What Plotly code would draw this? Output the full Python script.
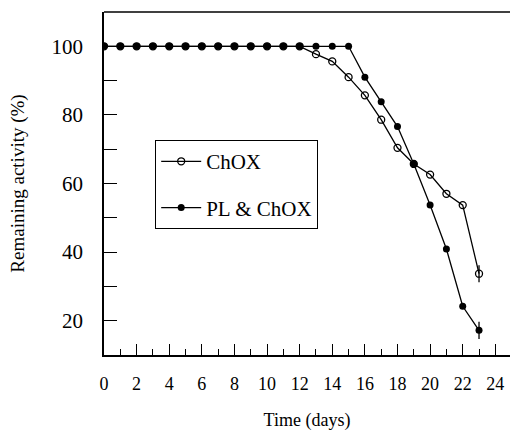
import plotly.graph_objects as go

days = list(range(0, 24))
chox = [100, 100, 100, 100, 100, 100, 100, 100, 100, 100, 100, 100, 100,
        97.7, 95.6, 91.0, 85.7, 78.6, 70.4, 65.7, 62.6, 57.0, 53.7, 33.7]
pl_chox = [100, 100, 100, 100, 100, 100, 100, 100, 100, 100, 100, 100, 100,
           100, 100, 100, 91.0, 83.8, 76.6, 65.7, 53.7, 40.9, 24.2, 17.2]
chox_err = [0] * 23 + [2.5]
pl_chox_err = [0] * 23 + [2.5]
x_major = list(range(0, 25, 2))
x_minor = list(range(1, 25, 2))
y_ticks = list(range(20, 101, 10))
y_labels = ["20", "", "40", "", "60", "", "80", "", "100"]

FONT = "Liberation Serif"
X_RANGE = [0, 24.9]

fig = go.Figure()
fig.add_trace(go.Scatter(
    x=days, y=chox, name="ChOX", mode="lines+markers", legendgroup="a",
    line=dict(color="black", width=1.3),
    marker=dict(symbol="circle-open", size=7, color="black", line=dict(width=1.3)),
    error_y=dict(type="data", array=chox_err, visible=True, width=0,
                 color="black", thickness=1.3),
))
fig.add_trace(go.Scatter(
    x=days, y=pl_chox, name="PL & ChOX", mode="lines+markers", legendgroup="b",
    line=dict(color="black", width=1.3),
    marker=dict(symbol="circle", size=7, color="black"),
    error_y=dict(type="data", array=pl_chox_err, visible=True, width=0,
                 color="black", thickness=1.3),
))
# empty trace that carries the short odd-day ticks on a second bottom axis
fig.add_trace(go.Scatter(x=[], y=[], xaxis="x2", showlegend=False, hoverinfo="skip"))

fig.update_layout(
    width=511, height=437,
    margin=dict(l=104, r=1, t=12, b=82),
    paper_bgcolor="white", plot_bgcolor="white",
    font=dict(family=FONT, color="black", size=18),
    showlegend=True,
    legend=dict(
        x=0.1256, y=0.627, xanchor="left", yanchor="top",
        bordercolor="black", borderwidth=1.2, bgcolor="white",
        font=dict(family=FONT, size=21, color="black"), tracegroupgap=16,
        itemwidth=40,
    ),
    xaxis=dict(
        range=X_RANGE, showgrid=False, zeroline=False,
        showline=True, linecolor="black", linewidth=1.5,
        tickmode="array", tickvals=x_major,
        ticks="inside", ticklen=11,
        tickwidth=1.2, tickcolor="black", ticklabelstandoff=12,
        tickfont=dict(family=FONT, size=18, color="black"),
        title=dict(text="Time (days)", font=dict(family=FONT, size=18, color="black"),
                   standoff=20),
    ),
    xaxis2=dict(
        range=X_RANGE, overlaying="x", side="bottom", anchor="y",
        showgrid=False, zeroline=False, showline=False,
        tickmode="array", tickvals=x_minor, showticklabels=False,
        ticks="inside", ticklen=6, tickwidth=1.2, tickcolor="black",
    ),
    yaxis=dict(
        range=[10, 110], showgrid=False, zeroline=False,
        showline=True, linecolor="black", linewidth=1.5,
        tickmode="array", tickvals=y_ticks, ticktext=y_labels,
        ticks="inside", ticklen=13, tickwidth=1.2, tickcolor="black",
        ticklabelstandoff=15, tickfont=dict(family=FONT, size=21, color="black"),
        title=dict(text="Remaining activity (%)",
                   font=dict(family=FONT, size=19, color="black"), standoff=22),
    ),
)

# top border of the frame
fig.add_shape(type="line", xref="paper", yref="paper", x0=0, x1=1, y0=1, y1=1,
              line=dict(color="black", width=1.5))

fig.write_html("out.html")
